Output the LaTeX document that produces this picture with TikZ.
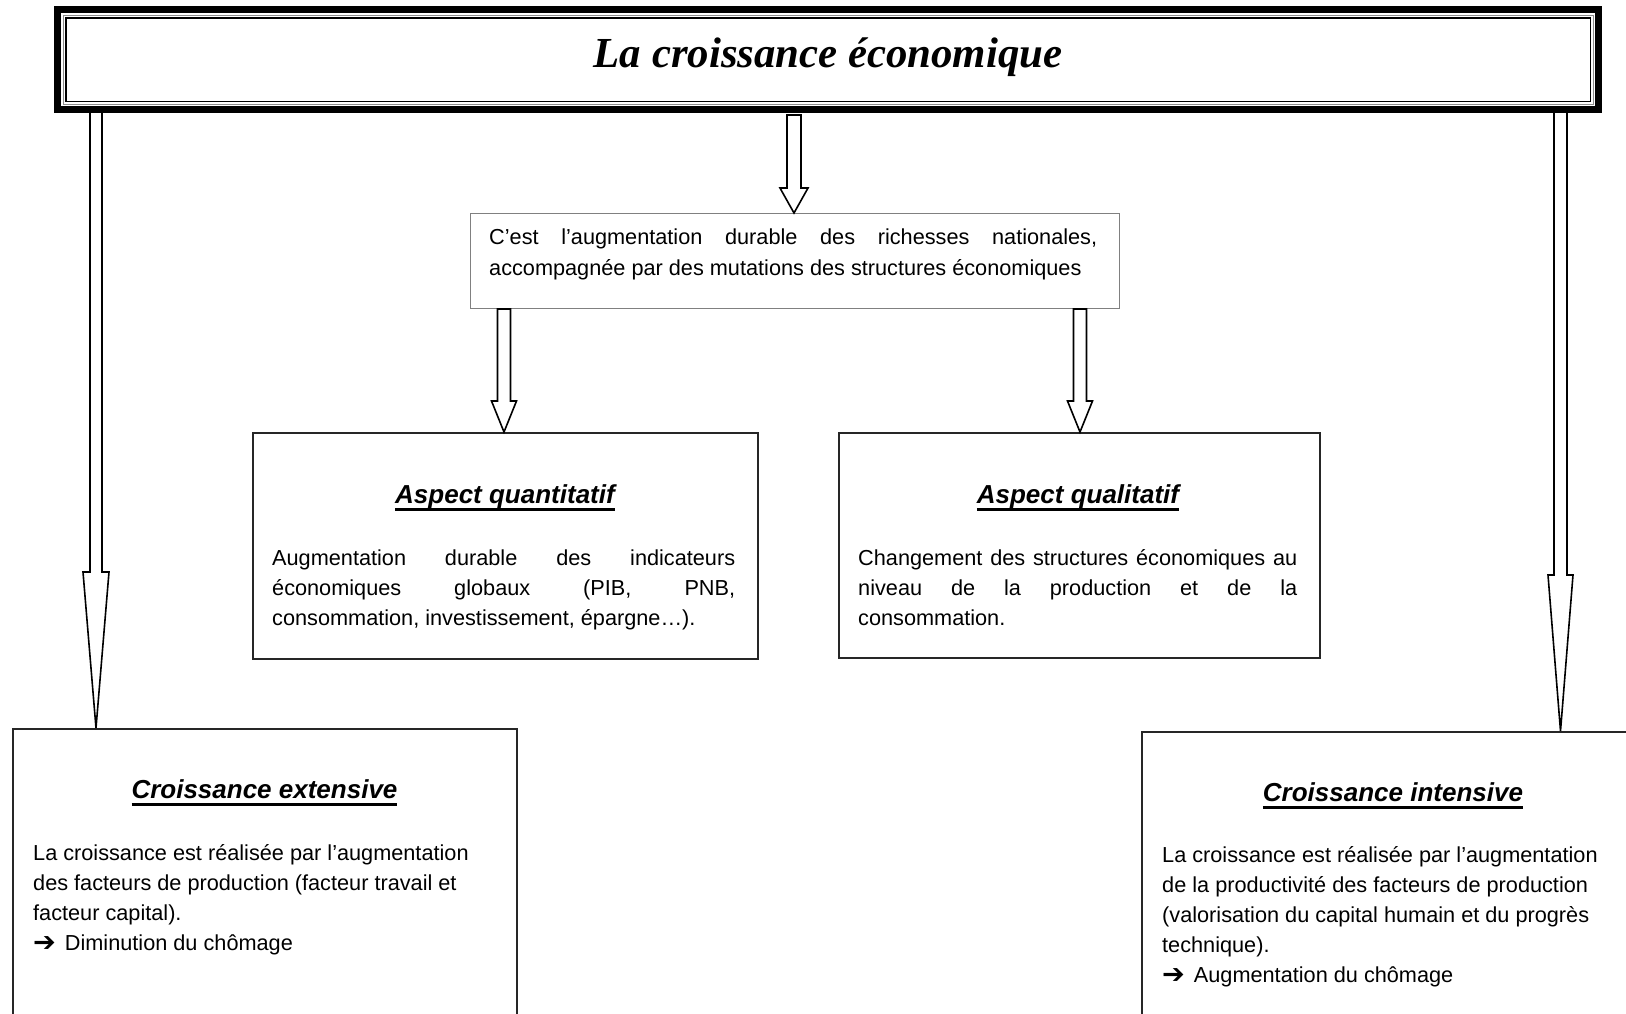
\documentclass[tikz,border=0pt]{standalone}
\usepackage{fontspec}
\setmainfont{Liberation Sans}
\newfontfamily\titlefont{Liberation Serif}
\newfontfamily\symfont{DejaVu Sans}
\usetikzlibrary{calc}
\newcommand\ulx[1]{\setbox0=\hbox{#1}\rlap{\rule[-7.5pt]{\wd0}{2.6pt}}\box0}
\newcommand\bigarr{\raisebox{-1pt}{\scalebox{1.25}{\symfont\bfseries ➔}}\hspace{9pt}}
\newcommand\blockarrow[5]{%
  \draw[arrowline] let \p1=(#1), \p2=(#2) in
    (\x1-#3pt,\y1) -- (\x1-#3pt,\y2+#5pt) -- (\x1-#4pt,\y2+#5pt) -- (\x1,\y2)
    -- (\x1+#4pt,\y2+#5pt) -- (\x1+#3pt,\y2+#5pt) -- (\x1+#3pt,\y1) -- cycle;}
\tikzset{
  box/.style={draw=black!85, line width=1.6pt, fill=white, inner sep=0pt, anchor=north west},
  defbox/.style={draw=black!50, line width=1pt, fill=white, inner sep=0pt, anchor=north west},
  arrowline/.style={draw=black, line width=1.6pt, fill=white, line join=miter},
  body/.style={font=\fontsize{21.7}{30}\selectfont, inner sep=0pt, anchor=base west},
  head/.style={font=\fontsize{26}{30}\selectfont\bfseries\itshape, inner sep=0pt, anchor=base},
}
\begin{document}
\begin{tikzpicture}[x=1pt,y=-1pt]
\useasboundingbox (0,0) rectangle (1626,1013);
\fill[white] (0,0) rectangle (1626,1013);
\clip (0,0) rectangle (1626,1013);

% boxes
\node[defbox, minimum width=649pt, minimum height=95pt] (def) at (470,213) {};
\node[box, minimum width=505pt, minimum height=226pt] (quant) at (252,432) {};
\node[box, minimum width=481pt, minimum height=225pt] (qual) at (838,432) {};
\node[box, minimum width=504pt, minimum height=320pt] (ext) at (12,728) {};
\node[box, minimum width=520pt, minimum height=320pt] (int) at (1141,731) {};

% title frame geometry
\node[minimum width=1548pt, minimum height=107pt, inner sep=0pt, anchor=north west] (frame) at (54,6) {};

% arrow start points
\coordinate (sL) at (96,106);
\coordinate (sR) at (1560.5,106);
\coordinate (sC) at (794,115);
\coordinate (sQ) at (def.south -| 504,0);
\coordinate (sU) at (def.south -| 1080,0);

% block arrows
\blockarrow{sL}{ext.north -| sL}{6}{13}{156}
\blockarrow{sR}{int.north -| sR}{6.5}{12.5}{156}
\blockarrow{sC}{def.north -| sC}{7}{14}{25}
\blockarrow{sQ}{quant.north -| sQ}{6.5}{12.5}{31}
\blockarrow{sU}{qual.north -| sU}{6.5}{12.5}{31}

% title frame
\fill[white] ($(frame.north west)+(7,7)$) rectangle ($(frame.south east)+(-7,-7)$);
\draw[line width=7pt] ($(frame.north west)+(3.5,3.5)$) rectangle ($(frame.south east)+(-3.5,-3.5)$);
\draw[black!45, line width=1pt] ($(frame.north west)+(9,9)$) rectangle ($(frame.south east)+(-9,-9)$);
\draw[line width=1.8pt] ($(frame.north west)+(12,12)$) rectangle ($(frame.south east)+(-12,-12)$);
\node[inner sep=0pt, anchor=base, font=\titlefont\bfseries\itshape\fontsize{42.8}{50}\selectfont] (title) at (828,67) {La croissance économique};

% definition
\node[body] (d1) at (489,244) {\makebox[608pt][s]{C’est l’augmentation durable des richesses nationales,}};
\node[body] (d2) at (489,275) {accompagnée par des mutations des structures économiques};

% quantitatif
\node[head] (qh) at (505,503) {\ulx{Aspect quantitatif}};
\node[body] (q1) at (272,565) {\makebox[463pt][s]{Augmentation durable des indicateurs}};
\node[body] (q2) at (272,595) {\makebox[463pt][s]{économiques globaux (PIB, PNB,}};
\node[body] (q3) at (272,625) {consommation, investissement, épargne…).};

% qualitatif
\node[head] (lh) at (1078,503) {\ulx{Aspect qualitatif}};
\node[body] (l1) at (858,565) {\makebox[439pt][s]{Changement des structures économiques au}};
\node[body] (l2) at (858,595) {\makebox[439pt][s]{niveau de la production et de la}};
\node[body] (l3) at (858,625) {consommation.};

% extensive
\node[head] (eh) at (264.5,798) {\ulx{Croissance extensive}};
\node[body] (e1) at (33,860) {La croissance est réalisée par l’augmentation};
\node[body] (e2) at (33,890) {des facteurs de production (facteur travail et};
\node[body] (e3) at (33,920) {facteur capital).};
\node[body] (e4) at (33,950) {\bigarr Diminution du chômage};

% intensive
\node[head] (ih) at (1393,801) {\ulx{Croissance intensive}};
\node[body] (i1) at (1162,862) {La croissance est réalisée par l’augmentation};
\node[body] (i2) at (1162,892) {de la productivité des facteurs de production};
\node[body] (i3) at (1162,922) {(valorisation du capital humain et du progrès};
\node[body] (i4) at (1162,952) {technique).};
\node[body] (i5) at (1162,982) {\bigarr Augmentation du chômage};
\end{tikzpicture}
\end{document}
